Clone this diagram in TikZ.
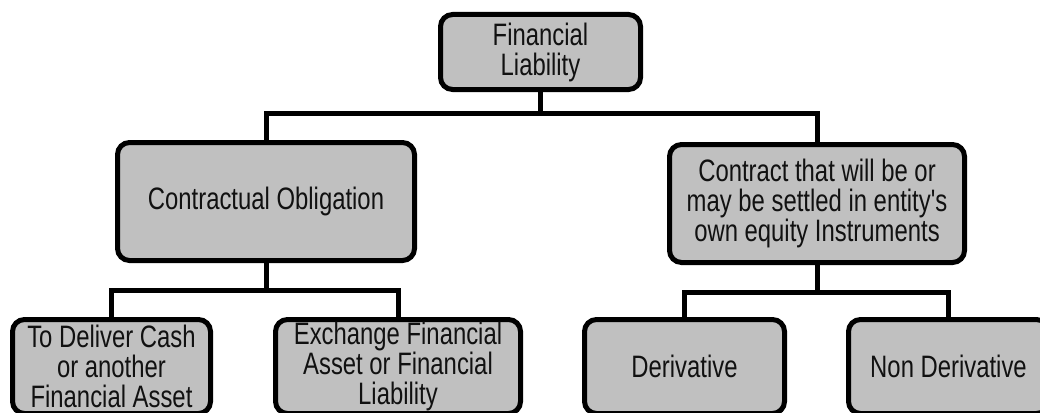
\documentclass[tikz,border=0pt]{standalone}
\usepackage{fontspec}
\setmainfont{Liberation Sans}[FakeStretch=0.77,Ligatures=TeXOff]
\definecolor{boxgray}{HTML}{C0C0C0}
\definecolor{txt}{HTML}{111111}
\begin{document}
\begin{tikzpicture}[x=1pt,y=-1pt,
  box/.style={draw=black,line width=5pt,fill=boxgray,rounded corners=12pt,
    inner sep=0pt,align=center,text=txt,font=\fontsize{31}{30}\selectfont},
  link/.style={draw=black,line width=5pt}]
\useasboundingbox (0,0) rectangle (1040,412);
\clip (0,0) rectangle (1040,412);
% nodes
\node[box,minimum width=200pt,minimum height=75pt] (top) at (540.5,52) {Financial\\Liability};
\node[box,minimum width=297pt,minimum height=118pt] (co) at (266,201.5) {Contractual Obligation};
\node[box,minimum width=295pt,minimum height=118pt] (cs) at (817,203.5) {Contract that will be or\\may be settled in entity's\\own equity Instruments};
\node[box,minimum width=198pt,minimum height=94pt] (d1) at (111.5,366.5) {To Deliver Cash\\or another\\Financial Asset};
\node[box,minimum width=245pt,minimum height=94pt] (d2) at (398,366.5) {Exchange Financial\\Asset or Financial\\Liability};
\node[box,minimum width=200pt,minimum height=94pt] (der) at (684.5,366.5) {Derivative};
\node[box,minimum width=200pt,minimum height=94pt] (nd) at (948.5,366.5) {Non Derivative};
% bus points
\coordinate (b1) at (540.5,113);
\coordinate (b2) at (266,290);
\coordinate (b3) at (817,292);
% connectors
\draw[link] (top.south) -- (b1) -| (co.north);
\draw[link] (b1) -| (cs.north);
\draw[link] (co.south) -- (b2) -| (d1.north);
\draw[link] (b2) -| (d2.north);
\draw[link] (cs.south) -- (b3) -| (der.north);
\draw[link] (b3) -| (nd.north);
\end{tikzpicture}
\end{document}
